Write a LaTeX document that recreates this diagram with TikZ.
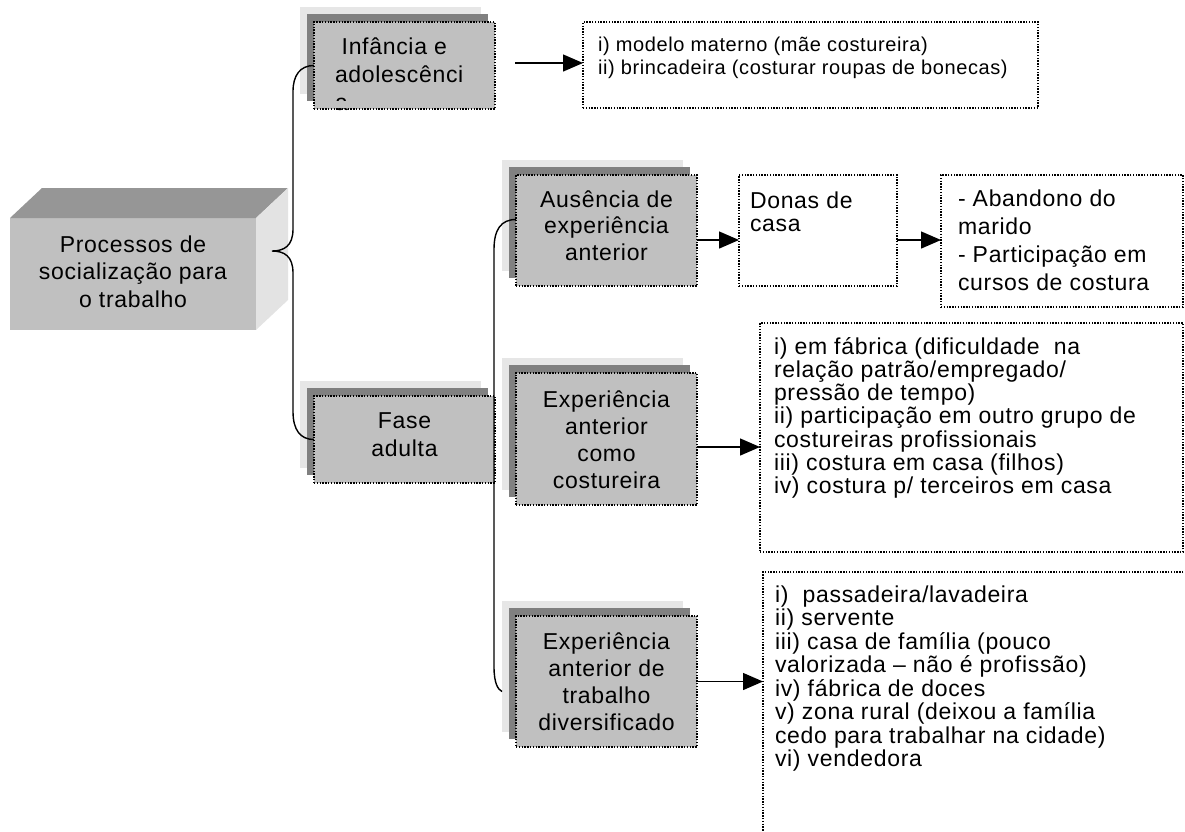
\documentclass[tikz,border=0pt]{standalone}
\usepackage{fontspec}
\setmainfont{Liberation Sans}[LetterSpace=3]
\usetikzlibrary{arrows.meta,calc}
\definecolor{shlight}{HTML}{E6E6E6}
\definecolor{shdark}{HTML}{808080}
\definecolor{frontgray}{HTML}{C0C0C0}
\definecolor{topgray}{HTML}{969696}
\definecolor{sidegray}{HTML}{E3E3E3}
% [font size] width, height, baselineskip, alignment, first baseline, text
\newcommand\btext[7][23]{\parbox[b][#3][t]{#2}{\lineskiplimit=-\maxdimen\fontsize{#1}{#4}\selectfont#5\rule{0pt}{#6}#7}}
\tikzset{
  gbox/.style={fill=frontgray, draw=black, line width=1.4pt, dash pattern=on 1.4pt off 1.4pt,
    inner sep=0pt, outer sep=0pt, anchor=north west,
    preaction={fill=shlight, draw=none, transform canvas={shift={(-14pt,15pt)}}},
    preaction={fill=shdark, draw=none, transform canvas={shift={(-7pt,8pt)}}}},
  mainbox/.style={fill=frontgray, inner sep=0pt, outer sep=0pt, anchor=north west},
  lbox/.style={draw=black, fill=white, line width=1.4pt, dash pattern=on 1.4pt off 1.4pt,
    inner ysep=0pt, outer sep=0pt, anchor=north west},
  conn/.style={line width=1.4pt},
  arr/.style={line width=1.4pt, -{Triangle[length=20pt,width=17pt]}},
}
\begin{document}
\begin{tikzpicture}[x=1pt,y=-1pt]
\useasboundingbox (0,0) rectangle (1185,831);
\clip (0,0) rectangle (1185,831);

% main 3D box
\node[mainbox] (main) at (10,218) {\btext{246pt}{112pt}{27.5pt}{\centering}{34pt}{Processos de\\socialização para\\o trabalho}};
\fill[topgray] (main.north west) -- ++(32,-30) -- ++(246,0) -- (main.north east) -- cycle;
\fill[sidegray] (main.north east) -- ++(32,-30) -- ++(0,112) -- (main.south east) -- cycle;

% grey boxes
\node[gbox] (inf) at (314,22) {\hspace*{21pt}\btext{160pt}{87pt}{28pt}{\raggedright}{32pt}{\hspace*{6.7pt}Infância e\\adolescênci\\a}};
\fill[frontgray] ($(inf.south west)+(1,-8)$) rectangle ($(inf.south east)+(-1,-0.8)$);
\node[gbox] (fase) at (314,396) {\btext{181pt}{87pt}{28.5pt}{\centering}{32pt}{Fase\\adulta}};
\node[gbox] (aus) at (516,175) {\btext{181pt}{111pt}{26.5pt}{\centering}{32pt}{Ausência de\\experiência\\anterior}};
\node[gbox] (como) at (516,373) {\btext{181pt}{132pt}{27.2pt}{\centering}{34pt}{Experiência\\anterior\\como\\costureira}};
\node[gbox] (div) at (516,616) {\btext{181pt}{131pt}{27pt}{\centering}{33pt}{Experiência\\anterior de\\trabalho\\diversificado}};

% list boxes
\node[lbox, inner xsep=15pt] (l1) at (583,22) {\btext[20]{425pt}{86pt}{23.3pt}{\raggedright}{29pt}{i) modelo materno (mãe costureira)\\ii) brincadeira (costurar roupas de bonecas)}};
\node[lbox, inner xsep=11pt] (donas) at (739,175) {\btext{136pt}{111pt}{23.3pt}{\raggedright}{33pt}{Donas de\\casa}};
\node[lbox, inner xsep=17pt] (aband) at (941,175) {\btext{208pt}{132pt}{28.3pt}{\raggedright}{31pt}{- Abandono do\\marido\\- Participação em\\cursos de costura}};
\node[lbox, inner xsep=14pt] (l2) at (760,323) {\btext{395pt}{229pt}{23.3pt}{\raggedright}{31pt}{i) em fábrica (dificuldade~ na\\relação patrão/empregado/\\pressão de tempo)\\ii) participação em outro grupo de\\costureiras profissionais\\iii) costura em casa (filhos)\\iv) costura p/ terceiros em casa}};
\node[lbox, inner xsep=12pt] (l3) at (763,572) {\btext{420pt}{280pt}{23.5pt}{\raggedright}{30pt}{i)~ passadeira/lavadeira\\ii) servente\\iii) casa de família (pouco\\valorizada – não é profissão)\\iv) fábrica de doces\\v) zona rural (deixou a família\\cedo para trabalhar na cidade)\\vi) vendedora}};

% arrows
\coordinate (a1) at ($(inf.east)+(20,-2.5)$);
\draw[arr] (a1) -- (a1 -| l1.west);
\coordinate (a2) at ($(aus.north east)+(0,65)$);
\draw[arr] (a2) -- (a2 -| donas.west);
\coordinate (a3) at ($(donas.north east)+(0,65)$);
\draw[arr] (a3) -- (a3 -| aband.west);
\coordinate (a4) at ($(como.east)+(0,8)$);
\draw[arr] (a4) -- (a4 -| l2.west);
\draw[arr] (div.east) -- (div.east -| l3.west);

% brace from main box
\coordinate (tip1) at ($(main.north east)+(16,33)$);
\draw[conn] (inf.west) .. controls ($(inf.west)+(-14,0)$) and ($(inf.west)+(-21,10)$) .. ($(inf.west)+(-21,26)$)
  -- ($(tip1)+(21,-22)$) .. controls ($(tip1)+(21,-5)$) and ($(tip1)+(12,0)$) .. (tip1)
  .. controls ($(tip1)+(12,0)$) and ($(tip1)+(21,5)$) .. ($(tip1)+(21,22)$)
  -- ($(fase.west)+(-21,-28)$) .. controls ($(fase.west)+(-21,-10)$) and ($(fase.west)+(-14,0)$) .. (fase.west);

% bracket for adult phase
\coordinate (s2) at ($(aus.west)+(0,-11)$);
\coordinate (e2) at ($(div.west)+(-14,10)$);
\draw[conn] (s2) .. controls ($(s2)+(-15,0)$) and ($(s2)+(-22,10)$) .. ($(s2)+(-22,30)$)
  -- ($(e2)+(-8,-25)$) .. controls ($(e2)+(-8,-8)$) and ($(e2)+(-4,-2)$) .. (e2);
\end{tikzpicture}
\end{document}
